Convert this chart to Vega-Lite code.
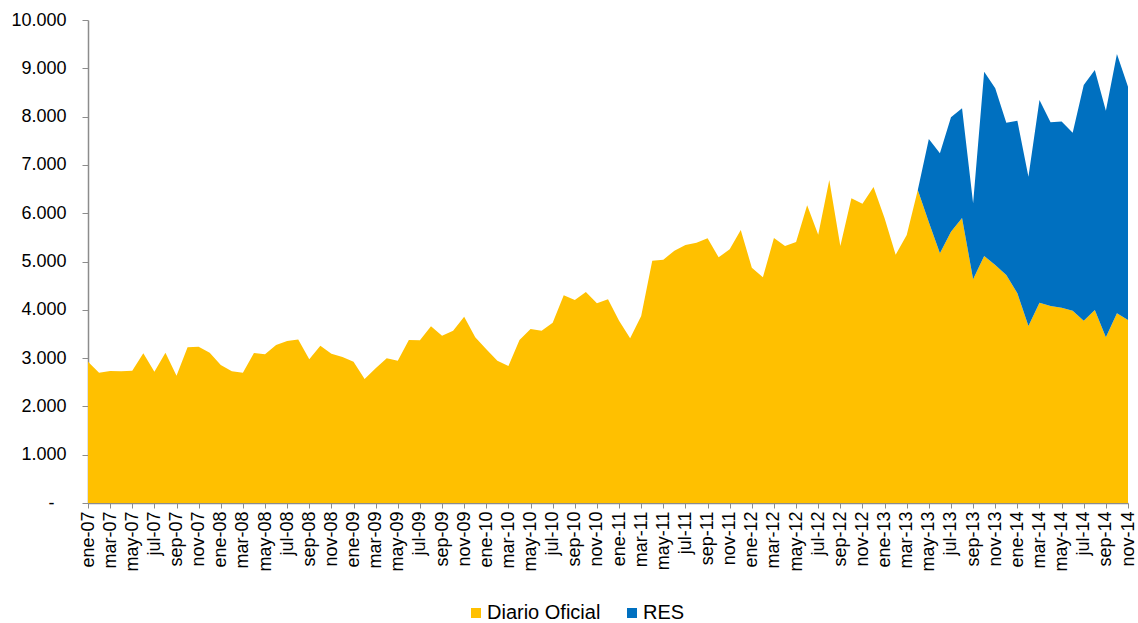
{
  "$schema": "https://vega.github.io/schema/vega-lite/v6.json",
  "width": 1040,
  "height": 483,
  "autosize": {"type": "none"},
  "padding": {"left": 88, "top": 20, "right": 10, "bottom": 120},
  "background": "white",
  "config": {"view": {"stroke": null}, "font": "Liberation Sans"},
  "data": {"values": [
    {"mes": "ene-07", "serie": "Diario Oficial", "valor": 2925},
    {"mes": "feb-07", "serie": "Diario Oficial", "valor": 2698},
    {"mes": "mar-07", "serie": "Diario Oficial", "valor": 2733},
    {"mes": "abr-07", "serie": "Diario Oficial", "valor": 2726},
    {"mes": "may-07", "serie": "Diario Oficial", "valor": 2740},
    {"mes": "jun-07", "serie": "Diario Oficial", "valor": 3099},
    {"mes": "jul-07", "serie": "Diario Oficial", "valor": 2719},
    {"mes": "ago-07", "serie": "Diario Oficial", "valor": 3112},
    {"mes": "sep-07", "serie": "Diario Oficial", "valor": 2636},
    {"mes": "oct-07", "serie": "Diario Oficial", "valor": 3223},
    {"mes": "nov-07", "serie": "Diario Oficial", "valor": 3237},
    {"mes": "dic-07", "serie": "Diario Oficial", "valor": 3112},
    {"mes": "ene-08", "serie": "Diario Oficial", "valor": 2857},
    {"mes": "feb-08", "serie": "Diario Oficial", "valor": 2726},
    {"mes": "mar-08", "serie": "Diario Oficial", "valor": 2698},
    {"mes": "abr-08", "serie": "Diario Oficial", "valor": 3105},
    {"mes": "may-08", "serie": "Diario Oficial", "valor": 3078},
    {"mes": "jun-08", "serie": "Diario Oficial", "valor": 3271},
    {"mes": "jul-08", "serie": "Diario Oficial", "valor": 3354},
    {"mes": "ago-08", "serie": "Diario Oficial", "valor": 3385},
    {"mes": "sep-08", "serie": "Diario Oficial", "valor": 2975},
    {"mes": "oct-08", "serie": "Diario Oficial", "valor": 3257},
    {"mes": "nov-08", "serie": "Diario Oficial", "valor": 3090},
    {"mes": "dic-08", "serie": "Diario Oficial", "valor": 3025},
    {"mes": "ene-09", "serie": "Diario Oficial", "valor": 2925},
    {"mes": "feb-09", "serie": "Diario Oficial", "valor": 2565},
    {"mes": "mar-09", "serie": "Diario Oficial", "valor": 2788},
    {"mes": "abr-09", "serie": "Diario Oficial", "valor": 2995},
    {"mes": "may-09", "serie": "Diario Oficial", "valor": 2943},
    {"mes": "jun-09", "serie": "Diario Oficial", "valor": 3375},
    {"mes": "jul-09", "serie": "Diario Oficial", "valor": 3368},
    {"mes": "ago-09", "serie": "Diario Oficial", "valor": 3658},
    {"mes": "sep-09", "serie": "Diario Oficial", "valor": 3464},
    {"mes": "oct-09", "serie": "Diario Oficial", "valor": 3568},
    {"mes": "nov-09", "serie": "Diario Oficial", "valor": 3858},
    {"mes": "dic-09", "serie": "Diario Oficial", "valor": 3430},
    {"mes": "ene-10", "serie": "Diario Oficial", "valor": 3182},
    {"mes": "feb-10", "serie": "Diario Oficial", "valor": 2946},
    {"mes": "mar-10", "serie": "Diario Oficial", "valor": 2836},
    {"mes": "abr-10", "serie": "Diario Oficial", "valor": 3375},
    {"mes": "may-10", "serie": "Diario Oficial", "valor": 3602},
    {"mes": "jun-10", "serie": "Diario Oficial", "valor": 3568},
    {"mes": "jul-10", "serie": "Diario Oficial", "valor": 3733},
    {"mes": "ago-10", "serie": "Diario Oficial", "valor": 4300},
    {"mes": "sep-10", "serie": "Diario Oficial", "valor": 4203},
    {"mes": "oct-10", "serie": "Diario Oficial", "valor": 4369},
    {"mes": "nov-10", "serie": "Diario Oficial", "valor": 4134},
    {"mes": "dic-10", "serie": "Diario Oficial", "valor": 4220},
    {"mes": "ene-11", "serie": "Diario Oficial", "valor": 3775},
    {"mes": "feb-11", "serie": "Diario Oficial", "valor": 3409},
    {"mes": "mar-11", "serie": "Diario Oficial", "valor": 3872},
    {"mes": "abr-11", "serie": "Diario Oficial", "valor": 5017},
    {"mes": "may-11", "serie": "Diario Oficial", "valor": 5038},
    {"mes": "jun-11", "serie": "Diario Oficial", "valor": 5224},
    {"mes": "jul-11", "serie": "Diario Oficial", "valor": 5342},
    {"mes": "ago-11", "serie": "Diario Oficial", "valor": 5390},
    {"mes": "sep-11", "serie": "Diario Oficial", "valor": 5480},
    {"mes": "oct-11", "serie": "Diario Oficial", "valor": 5086},
    {"mes": "nov-11", "serie": "Diario Oficial", "valor": 5252},
    {"mes": "dic-11", "serie": "Diario Oficial", "valor": 5652},
    {"mes": "ene-12", "serie": "Diario Oficial", "valor": 4872},
    {"mes": "feb-12", "serie": "Diario Oficial", "valor": 4672},
    {"mes": "mar-12", "serie": "Diario Oficial", "valor": 5487},
    {"mes": "abr-12", "serie": "Diario Oficial", "valor": 5321},
    {"mes": "may-12", "serie": "Diario Oficial", "valor": 5404},
    {"mes": "jun-12", "serie": "Diario Oficial", "valor": 6163},
    {"mes": "jul-12", "serie": "Diario Oficial", "valor": 5555},
    {"mes": "ago-12", "serie": "Diario Oficial", "valor": 6687},
    {"mes": "sep-12", "serie": "Diario Oficial", "valor": 5321},
    {"mes": "oct-12", "serie": "Diario Oficial", "valor": 6308},
    {"mes": "nov-12", "serie": "Diario Oficial", "valor": 6195},
    {"mes": "dic-12", "serie": "Diario Oficial", "valor": 6540},
    {"mes": "ene-13", "serie": "Diario Oficial", "valor": 5894},
    {"mes": "feb-13", "serie": "Diario Oficial", "valor": 5140},
    {"mes": "mar-13", "serie": "Diario Oficial", "valor": 5548},
    {"mes": "abr-13", "serie": "Diario Oficial", "valor": 6480},
    {"mes": "may-13", "serie": "Diario Oficial", "valor": 5815},
    {"mes": "jun-13", "serie": "Diario Oficial", "valor": 5169},
    {"mes": "jul-13", "serie": "Diario Oficial", "valor": 5618},
    {"mes": "ago-13", "serie": "Diario Oficial", "valor": 5900},
    {"mes": "sep-13", "serie": "Diario Oficial", "valor": 4635},
    {"mes": "oct-13", "serie": "Diario Oficial", "valor": 5114},
    {"mes": "nov-13", "serie": "Diario Oficial", "valor": 4928},
    {"mes": "dic-13", "serie": "Diario Oficial", "valor": 4720},
    {"mes": "ene-14", "serie": "Diario Oficial", "valor": 4341},
    {"mes": "feb-14", "serie": "Diario Oficial", "valor": 3665},
    {"mes": "mar-14", "serie": "Diario Oficial", "valor": 4147},
    {"mes": "abr-14", "serie": "Diario Oficial", "valor": 4079},
    {"mes": "may-14", "serie": "Diario Oficial", "valor": 4044},
    {"mes": "jun-14", "serie": "Diario Oficial", "valor": 3982},
    {"mes": "jul-14", "serie": "Diario Oficial", "valor": 3775},
    {"mes": "ago-14", "serie": "Diario Oficial", "valor": 3996},
    {"mes": "sep-14", "serie": "Diario Oficial", "valor": 3430},
    {"mes": "oct-14", "serie": "Diario Oficial", "valor": 3927},
    {"mes": "nov-14", "serie": "Diario Oficial", "valor": 3789},
    {"mes": "abr-13", "serie": "RES", "valor": 0},
    {"mes": "may-13", "serie": "RES", "valor": 1721},
    {"mes": "jun-13", "serie": "RES", "valor": 2070},
    {"mes": "jul-13", "serie": "RES", "valor": 2367},
    {"mes": "ago-13", "serie": "RES", "valor": 2272},
    {"mes": "sep-13", "serie": "RES", "valor": 1570},
    {"mes": "oct-13", "serie": "RES", "valor": 3816},
    {"mes": "nov-13", "serie": "RES", "valor": 3658},
    {"mes": "dic-13", "serie": "RES", "valor": 3155},
    {"mes": "ene-14", "serie": "RES", "valor": 3575},
    {"mes": "feb-14", "serie": "RES", "valor": 3091},
    {"mes": "mar-14", "serie": "RES", "valor": 4197},
    {"mes": "abr-14", "serie": "RES", "valor": 3803},
    {"mes": "may-14", "serie": "RES", "valor": 3852},
    {"mes": "jun-14", "serie": "RES", "valor": 3685},
    {"mes": "jul-14", "serie": "RES", "valor": 4879},
    {"mes": "ago-14", "serie": "RES", "valor": 4969},
    {"mes": "sep-14", "serie": "RES", "valor": 4693},
    {"mes": "oct-14", "serie": "RES", "valor": 5369},
    {"mes": "nov-14", "serie": "RES", "valor": 4830}
  ]},
  "mark": {"type": "area", "interpolate": "linear"},
  "encoding": {
    "x": {
      "field": "mes",
      "type": "ordinal",
      "sort": null,
      "scale": {"type": "point", "padding": 0},
      "axis": {
        "title": null,
        "values": ["ene-07","mar-07","may-07","jul-07","sep-07","nov-07","ene-08","mar-08","may-08","jul-08","sep-08","nov-08","ene-09","mar-09","may-09","jul-09","sep-09","nov-09","ene-10","mar-10","may-10","jul-10","sep-10","nov-10","ene-11","mar-11","may-11","jul-11","sep-11","nov-11","ene-12","mar-12","may-12","jul-12","sep-12","nov-12","ene-13","mar-13","may-13","jul-13","sep-13","nov-13","ene-14","mar-14","may-14","jul-14","sep-14","nov-14"],
        "labelAngle": -90,
        "labelAlign": "right",
        "labelBaseline": "middle",
        "labelFontSize": 18,
        "labelColor": "#000000",
        "labelPadding": 3,
        "labelOverlap": false,
        "tickSize": 5,
        "tickColor": "#8c8c8c",
        "domainColor": "#8c8c8c",
        "domainWidth": 1.5,
        "grid": false
      }
    },
    "y": {
      "field": "valor",
      "type": "quantitative",
      "stack": "zero",
      "scale": {"domain": [0, 10000]},
      "axis": {
        "title": null,
        "values": [0, 1000, 2000, 3000, 4000, 5000, 6000, 7000, 8000, 9000, 10000],
        "labelExpr": "datum.value == 0 ? '-' : replace(format(datum.value, ',d'), ',', '.')",
        "labelFontSize": 18,
        "labelColor": "#000000",
        "labelPadding": {"condition": {"test": "datum.value == 0", "value": 28}, "value": 16},
        "tickSize": 6,
        "tickColor": "#8c8c8c",
        "domainColor": "#8c8c8c",
        "domainWidth": 1.5,
        "grid": false
      }
    },
    "order": {"field": "serie", "sort": "ascending"},
    "color": {
      "field": "serie",
      "type": "nominal",
      "scale": {"domain": ["Diario Oficial", "RES"], "range": ["#FFC000", "#0070C0"]},
      "legend": {
        "title": null,
        "orient": "none",
        "legendX": 378,
        "legendY": 583,
        "direction": "horizontal",
        "symbolType": "square",
        "symbolSize": 100,
        "symbolStrokeWidth": 0,
        "labelFontSize": 20,
        "labelColor": "#000000",
        "labelOffset": 1,
        "columnPadding": 21,
        "padding": 0
      }
    }
  }
}
